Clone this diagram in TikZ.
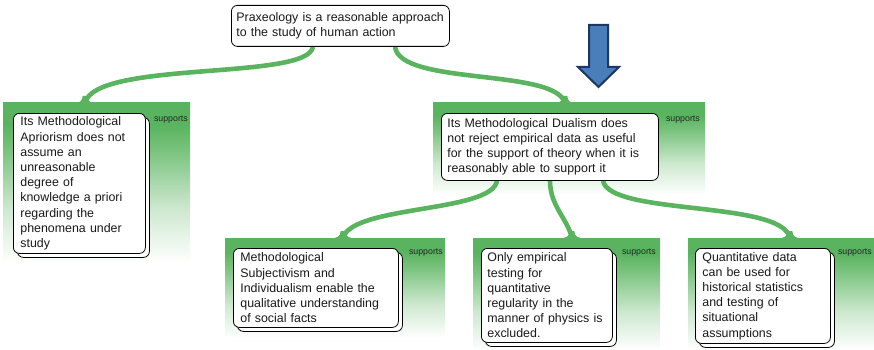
\documentclass[tikz,border=0pt]{standalone}
\usepackage{fontspec}
\setmainfont{Liberation Sans}
\usetikzlibrary{calc,shadows,backgrounds}

\definecolor{leaf}{RGB}{90,180,95}
\definecolor{arrowfill}{RGB}{74,126,187}
\definecolor{arrowedge}{RGB}{28,56,94}

% green panel: solid at the top, fading to white towards the bottom
\pgfdeclareverticalshading{panelfade}{100bp}{color(0bp)=(white); color(25bp)=(white); color(42bp)=(leaf!30!white); color(60bp)=(leaf!80!white); color(68bp)=(leaf); color(100bp)=(leaf)}

\newcommand\claimfont{\fontsize{12.4}{15.2}\selectfont}
\newcommand\tagfont{\fontsize{8.8}{10}\selectfont}

\begin{document}
\begin{tikzpicture}[x=1pt,y=-1pt,
  claim/.style={draw=black, line width=0.8pt, rounded corners=6pt, fill=white,
    anchor=north west, align=left, font=\claimfont, text=black!90, inner ysep=2pt},
  shadowed/.style={copy shadow={shadow xshift=4pt, shadow yshift=-4pt, line width=0.8pt}},
  panel/.style={shade, shading=panelfade, anchor=north west, inner sep=0pt, outer sep=0pt, draw=none},
  tag/.style={font=\tagfont, text=black!85, inner sep=0pt, anchor=east},
  branch/.style={draw=leaf, line width=4.6pt, line cap=butt},
  flare/.pic={\fill[leaf] (-14,0.5) .. controls (-5,0.5) and (-2.6,-2) .. (-2.3,-7)
      -- (2.3,-7) .. controls (2.6,-2) and (5,0.5) .. (14,0.5) -- cycle;}
]
\useasboundingbox (0,0) rectangle (874,350);

% background panels under each claim
\begin{pgfonlayer}{background}
  \node[panel, minimum width=187pt, minimum height=160pt] (pA) at (3,103) {};
  \node[panel, minimum width=272pt, minimum height=92pt]  (pD) at (433,103) {};
  \node[panel, minimum width=220pt, minimum height=100pt] (pS) at (225,238) {};
  \node[panel, minimum width=187pt, minimum height=112pt] (pE) at (473,238) {};
  \node[panel, minimum width=186pt, minimum height=112pt] (pQ) at (688,238) {};
\end{pgfonlayer}

% claims
\node[claim, text width=208pt, inner xsep=5pt, minimum height=41pt] (top) at (231,5)
  {Praxeology is a reasonable approach\\to the study of human action};
\node[claim, shadowed, text width=118pt, inner xsep=7pt, minimum height=140pt] (apriori) at (13,113)
  {Its Methodological\\Apriorism does not\\assume an\\unreasonable\\degree of\\knowledge a priori\\regarding the\\phenomena under\\study};
\node[claim, text width=205pt, inner xsep=6pt, minimum height=67pt] (dualism) at (441,113)
  {Its Methodological Dualism does\\not reject empirical data as useful\\for the support of theory when it is\\reasonably able to support it};
\node[claim, shadowed, text width=151pt, inner xsep=7pt, minimum height=79pt] (subj) at (233,248)
  {Methodological\\Subjectivism and\\Individualism enable the\\qualitative understanding\\of social facts};
\node[claim, shadowed, text width=119pt, inner xsep=6pt, minimum height=94pt] (empir) at (481,248)
  {Only empirical\\testing for\\quantitative\\regularity in the\\manner of physics is\\excluded.};
\node[claim, shadowed, text width=121pt, inner xsep=7pt, minimum height=95pt] (quant) at (695,248)
  {Quantitative data\\can be used for\\historical statistics\\and testing of\\situational\\assumptions};

% relation labels
\node[tag] (tA) at ([xshift=-2pt,yshift=-17pt]pA.north east) {supports};
\node[tag] (tD) at ([xshift=-5pt,yshift=-17pt]pD.north east) {supports};
\node[tag] (tS) at ([xshift=-2pt,yshift=-15pt]pS.north east) {supports};
\node[tag] (tE) at ([xshift=-4pt,yshift=-15pt]pE.north east) {supports};
\node[tag] (tQ) at ([xshift=-2pt,yshift=-15pt]pQ.north east) {supports};

% branches from each claim down to the panels it supports
\begin{pgfonlayer}{background}
  \draw[branch] ([xshift=82pt]top.south west) .. controls +(-5,34) and +(10,-43) .. ([xshift=82pt]pA.north west);
  \pic at ([xshift=82pt]pA.north west) {flare};
  \draw[branch] ([xshift=164pt]top.south west) .. controls +(5,39) and +(-10,-35) .. ([xshift=132pt]pD.north west);
  \pic at ([xshift=132pt]pD.north west) {flare};
  \draw[branch] ([xshift=56pt]dualism.south west) .. controls +(-5,32) and +(9,-33) .. ([xshift=118pt]pS.north west);
  \pic at ([xshift=118pt]pS.north west) {flare};
  \draw[branch] ([xshift=109pt]dualism.south west) .. controls +(0,25) and +(-5,-20) .. ([xshift=99pt]pE.north west);
  \pic at ([xshift=99pt]pE.north west) {flare};
  \draw[branch] ([xshift=162pt]dualism.south west) .. controls +(7,35) and +(-8,-38) .. ([xshift=102pt]pQ.north west);
  \pic at ([xshift=102pt]pQ.north west) {flare};
\end{pgfonlayer}

% pointer arrow
\draw[fill=arrowfill, draw=arrowedge, line width=2pt, line join=miter]
  (589,25) -- (608,25) -- (608,67) -- (619,67) -- (598.5,87) -- (578,67) -- (589,67) -- cycle;
\end{tikzpicture}
\end{document}
